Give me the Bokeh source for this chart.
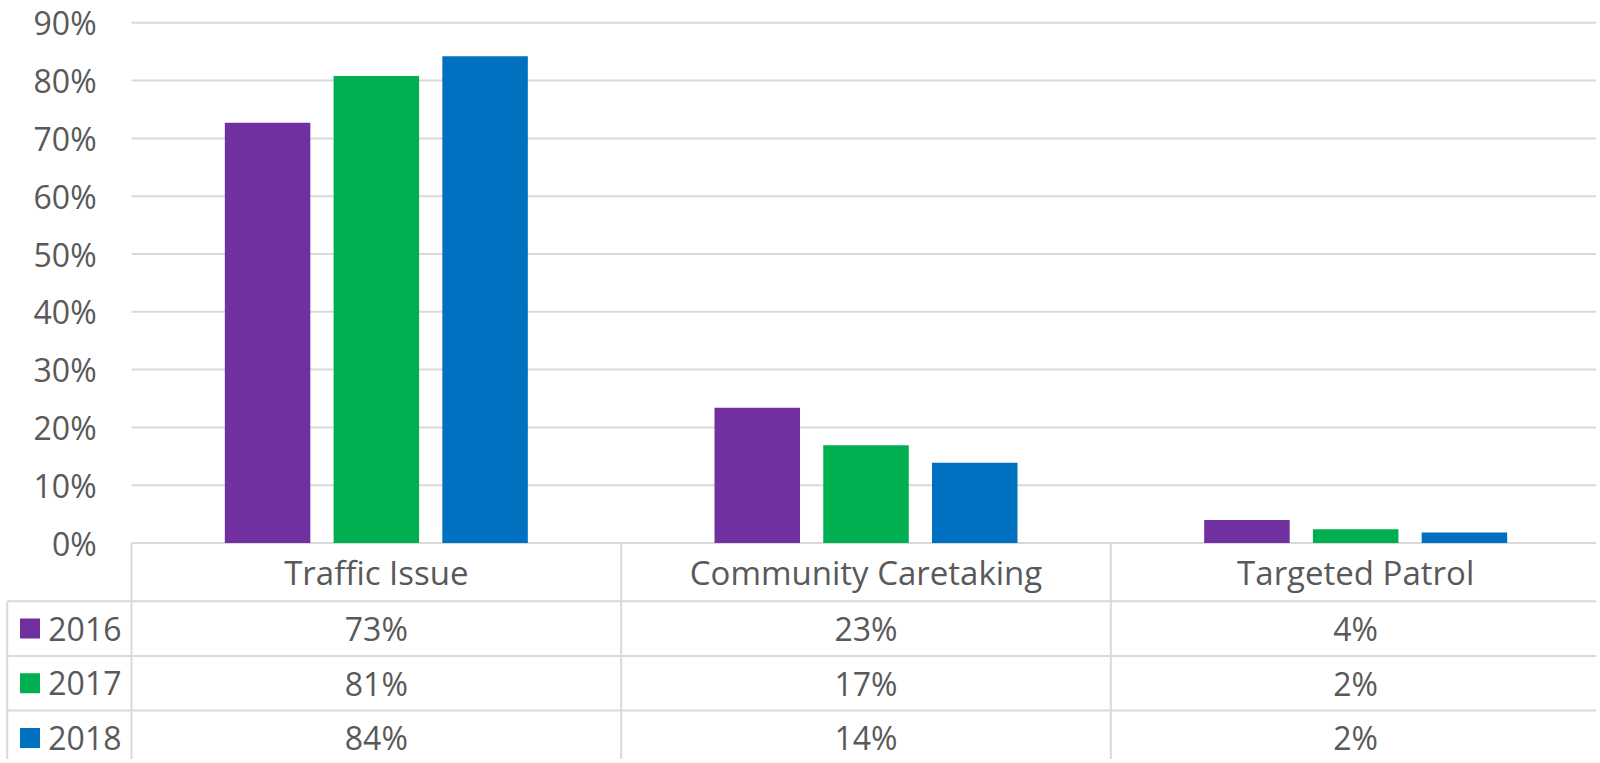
from bokeh.plotting import figure
from bokeh.models import Range1d
from bokeh.embed import file_html
from bokeh.resources import INLINE
from bokeh.core.properties import value

# ---------------- data ----------------
categories = ["Traffic Issue", "Community Caretaking", "Targeted Patrol"]
years = ["2016", "2017", "2018"]
values_2016 = [0.727, 0.234, 0.040]
values_2017 = [0.808, 0.169, 0.024]
values_2018 = [0.842, 0.139, 0.018]
series_colors = ["#7030A0", "#00B050", "#0070C0"]
y_ticks = [0.0, 0.1, 0.2, 0.3, 0.4, 0.5, 0.6, 0.7, 0.8, 0.9]
y_tick_labels = ["0%", "10%", "20%", "30%", "40%", "50%", "60%", "70%", "80%", "90%"]

series = [values_2016, values_2017, values_2018]

# ---------------- layout (pixels) ----------------
W, H = 1596, 759
X0_PX = 131.0          # plot area left edge
CAT_PX = 489.67        # width of one category
Y0_PX = 542.5          # 0% line
UNIT_PX = 578.0        # px for 100%
HEADER_PX = 58.2
ROW_PX = 54.7

x_start = -X0_PX / CAT_PX
x_end = x_start + W / CAT_PX
y_top = Y0_PX / UNIT_PX
y_bot = -(H - Y0_PX) / UNIT_PX


def X(px):
    return (px - X0_PX) / CAT_PX


def Y(py):
    return (Y0_PX - py) / UNIT_PX


FONT = "Open Sans"
TXT = "#595959"
GRID = "#D9D9D9"
FS_NUM = 32
FS_CAT = "33px"

p = figure(width=W, height=H, x_range=Range1d(x_start, x_end), y_range=Range1d(y_bot, y_top),
           output_backend="svg", toolbar_location=None, x_axis_location=None, y_axis_location=None,
           min_border=0, min_border_left=0, min_border_right=0, min_border_top=0, min_border_bottom=0)
p.grid.visible = False
p.outline_line_color = None
p.background_fill_color = "white"
p.border_fill_color = "white"

# gridlines (0% line is the table's top border)
p.segment(x0=[0.0] * len(y_ticks), x1=[x_end] * len(y_ticks), y0=y_ticks, y1=y_ticks,
          line_color=GRID, line_width=2)

# y tick labels: left-aligned at (right edge - advance width) of Open Sans
def label_advance(s):
    w = 0.0
    for ch in s:
        w += 0.838 if ch == "%" else 0.572
    return w * FS_NUM

p.text(x=[X(96.5 - label_advance(s)) for s in y_tick_labels], y=y_ticks, text=y_tick_labels,
       text_font=value(FONT), text_font_size=f"{FS_NUM}px", text_color=TXT,
       text_align="left", text_baseline="middle")

# bars
offsets = [-108.75 / CAT_PX, 0.0, 108.75 / CAT_PX]
bar_w = 85.5 / CAT_PX
for j, vals in enumerate(series):
    xs = [i + 0.5 + offsets[j] for i in range(len(categories))]
    p.vbar(x=xs, top=vals, bottom=0, width=bar_w, fill_color=series_colors[j], line_color=None)

# table lines
n_rows = len(years)
row_tops = [Y(Y0_PX + HEADER_PX + ROW_PX * k) for k in range(n_rows)]
legend_left = X(6.7)
p.segment(x0=[legend_left] * n_rows, x1=[x_end] * n_rows, y0=row_tops, y1=row_tops,
          line_color=GRID, line_width=2)
vx = [float(i) for i in range(len(categories))]
p.segment(x0=vx, x1=vx, y0=[0.0] * len(vx), y1=[y_bot] * len(vx), line_color=GRID, line_width=2)
p.segment(x0=[legend_left], x1=[legend_left], y0=[row_tops[0]], y1=[y_bot], line_color=GRID, line_width=2)

# category labels (header row)
p.text(x=[i + 0.5 for i in range(len(categories))], y=[Y(Y0_PX + HEADER_PX / 2)] * len(categories),
       text=categories, text_font=value(FONT), text_font_size=FS_CAT, text_color=TXT,
       text_align="center", text_baseline="middle")

# table values and legend keys
for j, vals in enumerate(series):
    yc = Y(Y0_PX + HEADER_PX + ROW_PX * (j + 0.5))
    p.text(x=[i + 0.5 for i in range(len(categories))], y=[yc] * len(categories),
           text=[f"{v * 100:.0f}%" for v in vals],
           text_font=value(FONT), text_font_size=f"{FS_NUM}px", text_color=TXT,
           text_align="center", text_baseline="middle")
    p.scatter(x=[X(29.5)], y=[yc], marker="square", size=20,
              fill_color=series_colors[j], line_color=None)
    p.text(x=[X(47.8)], y=[yc], text=[years[j]],
           text_font=value(FONT), text_font_size=f"{FS_NUM}px", text_color=TXT,
           text_align="left", text_baseline="middle")

open("out.html", "w").write(file_html(p, INLINE))
